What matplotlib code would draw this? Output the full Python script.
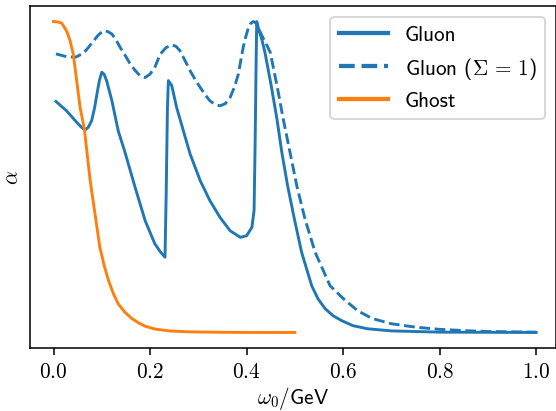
import matplotlib
matplotlib.use("Agg")
import matplotlib.pyplot as plt

plt.rcParams.update(
    {
        "font.family": ["cmss10", "DejaVu Sans"],
        "mathtext.fontset": "cm",
        "axes.unicode_minus": False,
        "font.size": 11,
    }
)

# spectral weights, normalised to the peak
GLUON_X = [0.005, 0.027, 0.048, 0.058, 0.065, 0.072, 0.079, 0.085, 0.090, 0.095, 0.100, 0.105,
           0.110, 0.121, 0.134, 0.148, 0.169, 0.190, 0.210, 0.222, 0.231, 0.2335, 0.236,
           0.238, 0.245, 0.255, 0.269, 0.283, 0.304, 0.324, 0.345, 0.366, 0.387, 0.400,
           0.411, 0.4155, 0.4176, 0.4197, 0.421, 0.426, 0.432, 0.438, 0.451, 0.463, 0.473,
           0.485, 0.499, 0.514, 0.535, 0.548, 0.563, 0.580, 0.597, 0.62, 0.65, 0.70, 0.80,
           0.90, 1.0]
GLUON_Y = [0.743, 0.713, 0.676, 0.660, 0.651, 0.660, 0.681, 0.722, 0.767, 0.810, 0.837, 0.830,
           0.810, 0.745, 0.649, 0.580, 0.467, 0.359, 0.285, 0.258, 0.242, 0.45, 0.72,
           0.81, 0.794, 0.724, 0.649, 0.574, 0.488, 0.424, 0.370, 0.327, 0.306, 0.311,
           0.338, 0.392, 0.595, 0.863, 1.0, 0.97, 0.94, 0.901, 0.794, 0.686, 0.579,
           0.472, 0.365, 0.258, 0.150, 0.108, 0.076, 0.053, 0.038, 0.022, 0.012, 0.005, 0.001,
           0.0005, 0.0]

GLUON_S1_X = [0.005, 0.027, 0.045, 0.062, 0.073, 0.083, 0.093, 0.103, 0.112, 0.121, 0.130,
              0.138, 0.149, 0.159, 0.169, 0.179, 0.190, 0.200, 0.210, 0.221, 0.233, 0.245,
              0.254, 0.262, 0.272, 0.283, 0.294, 0.304, 0.314, 0.324, 0.335, 0.345, 0.356,
              0.366, 0.375, 0.383, 0.388, 0.393, 0.399, 0.404, 0.409, 0.414, 0.420, 0.430,
              0.440, 0.449, 0.463, 0.476, 0.490, 0.504, 0.521, 0.542, 0.573, 0.601, 0.63,
              0.66, 0.70, 0.75, 0.80, 0.85, 0.90, 1.0]
GLUON_S1_Y = [0.896, 0.887, 0.885, 0.898, 0.918, 0.938, 0.957, 0.970, 0.968, 0.960, 0.940,
              0.917, 0.890, 0.863, 0.843, 0.826, 0.820, 0.831, 0.853, 0.895, 0.916, 0.925,
              0.920, 0.906, 0.876, 0.842, 0.812, 0.788, 0.765, 0.745, 0.733, 0.729, 0.736,
              0.756, 0.790, 0.831, 0.875, 0.917, 0.955, 0.981, 0.995, 1.0, 0.995, 0.96,
              0.93, 0.901, 0.794, 0.686, 0.579, 0.472, 0.365, 0.258, 0.150, 0.108, 0.07,
              0.045, 0.028, 0.017, 0.01, 0.006, 0.003, 0.001]

GHOST_X = [0.0, 0.008, 0.017, 0.027, 0.034, 0.041, 0.048, 0.055, 0.064, 0.070, 0.076, 0.086,
           0.096, 0.105, 0.114, 0.124, 0.134, 0.148, 0.162, 0.176, 0.190, 0.210, 0.24,
           0.28, 0.35, 0.42, 0.50]
GHOST_Y = [1.0, 0.999, 0.995, 0.970, 0.940, 0.895, 0.810, 0.724, 0.654, 0.570, 0.488, 0.381,
           0.274, 0.215, 0.167, 0.125, 0.092, 0.065, 0.045, 0.031, 0.020, 0.011, 0.005,
           0.002, 0.0005, 0.0, 0.0]

XTICKS = [0.0, 0.2, 0.4, 0.6, 0.8, 1.0]

fig = plt.figure(figsize=(4.0, 412 / 139), dpi=139)
ax = fig.add_axes([30 / 556, 1 - 349 / 412, 525.5 / 556, 342 / 412])

ax.plot(GLUON_X, GLUON_Y, color="#1f77b4", lw=1.5, label="Gluon")
ax.plot(GLUON_S1_X, GLUON_S1_Y, color="#1f77b4", lw=1.5, ls="--", label=r"Gluon ($\Sigma\,=\,1$)")
ax.plot(GHOST_X, GHOST_Y, color="#ff7f0e", lw=1.5, label="Ghost")

ax.set_xlim(-0.0487, 1.04)
ax.set_ylim(-0.05, 1.05)
ax.set_xticks(XTICKS)
ax.set_xticklabels([f"${t:.1f}$" for t in XTICKS])
ax.set_yticks([])
ax.set_xlabel(r"$\omega_0/$GeV", labelpad=2)
ax.set_ylabel(r"$\alpha$")

leg = ax.legend(loc="upper right", handlelength=2.3)
for line in leg.get_lines():
    line.set_linewidth(2.2)

fig.savefig("out.png", dpi=139)
